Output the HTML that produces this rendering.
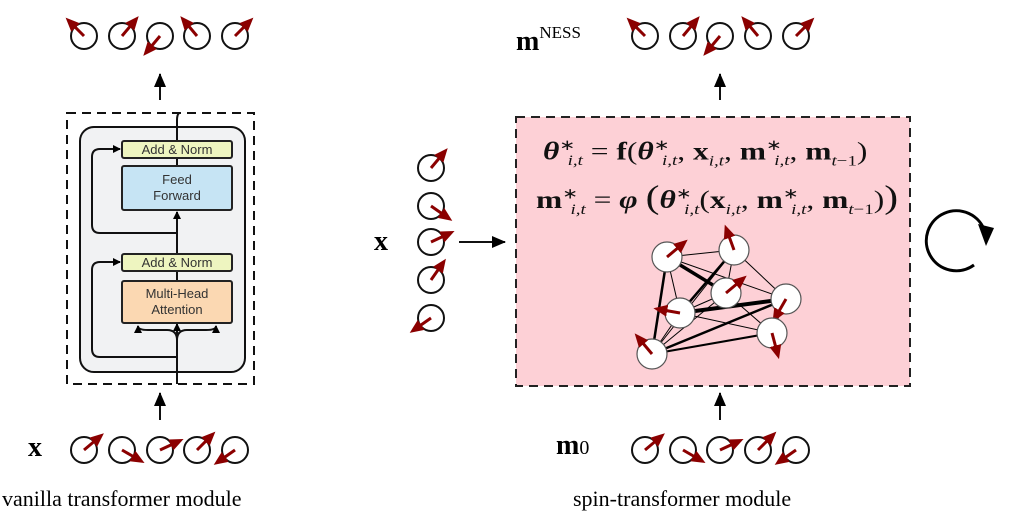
<!DOCTYPE html>
<html><head><meta charset="utf-8"><style>
body{margin:0;background:#fff;width:1014px;height:526px;overflow:hidden;position:relative;font-family:"Liberation Serif",serif}
.t{position:absolute;white-space:nowrap}
.box{position:absolute;font-family:"Liberation Sans",sans-serif;font-size:13px;color:#333;text-align:center;border:2px solid #222;border-radius:3px;box-sizing:border-box;line-height:16px}
.eq{font-size:25px;color:#111;transform:scaleX(1.26);transform-origin:0 50%}
.eq sub,.eq sup{font-size:15px}
b{font-weight:bold}
</style></head><body>
<svg width="1014" height="526" style="position:absolute;left:0;top:0">
<defs>
<marker id="ah" markerWidth="8" markerHeight="8" refX="7" refY="4" orient="auto" markerUnits="userSpaceOnUse"><path d="M0,0 L8,4 L0,8z" fill="#000"/></marker>
<marker id="ab" markerWidth="14" markerHeight="12" refX="13" refY="6" orient="auto" markerUnits="userSpaceOnUse"><path d="M0,0 L14,6 L0,12z" fill="#000"/></marker>
<marker id="ar" markerWidth="14" markerHeight="12" refX="2" refY="6" orient="auto" markerUnits="userSpaceOnUse"><path d="M0,0 L14,6 L0,12z" fill="#8b0000"/></marker>
</defs>
<rect x="67" y="113" width="187" height="271" fill="none" stroke="#111" stroke-width="2" stroke-dasharray="9,6"/>
<rect x="80" y="127" width="165" height="245" rx="14" fill="#f1f2f3" stroke="#111" stroke-width="2"/>
<g stroke="#111" stroke-width="2" fill="none">
<path d="M177,384 L177,324" marker-end="url(#ah)"/>
<path d="M177,340 Q177,330 167,330 L148,330 Q138,330 138,326" marker-end="url(#ah)"/>
<path d="M177,340 Q177,330 187,330 L206,330 Q216,330 216,326" marker-end="url(#ah)"/>
<path d="M177,357 L100,357 Q92,357 92,349 L92,270 Q92,262 100,262 L120,262" marker-end="url(#ah)"/>
<path d="M177,253 L177,212" marker-end="url(#ah)"/>
<path d="M177,233 L100,233 Q92,233 92,225 L92,157 Q92,149 100,149 L120,149" marker-end="url(#ah)"/>
<path d="M177,140 L177,120 Q177,115 179,113"/>
<path d="M177,272 L177,280"/><path d="M177,158 L177,165"/>
<path d="M160,420 L160,393" marker-end="url(#ab)"/>
<path d="M160,100 L160,74" marker-end="url(#ab)"/>
<path d="M720,420 L720,393" marker-end="url(#ab)"/>
<path d="M720,100 L720,74" marker-end="url(#ab)"/>
<path d="M459,242 L505,242" marker-end="url(#ab)"/>
</g>
<rect x="516" y="117" width="394" height="269" fill="#fdd0d6" stroke="#222" stroke-width="2" stroke-dasharray="9,6"/>
<g stroke="#000" fill="none">
<line x1="667" y1="257" x2="734" y2="250" stroke-width="1"/>
<line x1="667" y1="257" x2="726" y2="293" stroke-width="3.5"/>
<line x1="667" y1="257" x2="680" y2="313" stroke-width="1"/>
<line x1="667" y1="257" x2="652" y2="354" stroke-width="2.5"/>
<line x1="667" y1="257" x2="786" y2="299" stroke-width="1"/>
<line x1="734" y1="250" x2="680" y2="313" stroke-width="2.5"/>
<line x1="734" y1="250" x2="726" y2="293" stroke-width="1"/>
<line x1="734" y1="250" x2="786" y2="299" stroke-width="1"/>
<line x1="734" y1="250" x2="652" y2="354" stroke-width="1"/>
<line x1="680" y1="313" x2="786" y2="299" stroke-width="4"/>
<line x1="680" y1="313" x2="726" y2="293" stroke-width="1"/>
<line x1="680" y1="313" x2="772" y2="333" stroke-width="1"/>
<line x1="680" y1="313" x2="652" y2="354" stroke-width="1"/>
<line x1="726" y1="293" x2="772" y2="333" stroke-width="1"/>
<line x1="652" y1="354" x2="786" y2="299" stroke-width="2.5"/>
<line x1="652" y1="354" x2="772" y2="333" stroke-width="2"/>
<line x1="652" y1="354" x2="726" y2="293" stroke-width="1"/>
<line x1="786" y1="299" x2="772" y2="333" stroke-width="1"/>
</g>
<g id="spins"></g>
<path d="M985,232 A30,30 0 1 0 974,265" fill="none" stroke="#000" stroke-width="3"/>
<path d="M978,224 L994,228 L986,246z" fill="#000"/>
</svg>
<div class="box" style="left:121px;top:140px;width:112px;height:19px;background:#eef5c0">Add &amp; Norm</div>
<div class="box" style="left:121px;top:165px;width:112px;height:46px;background:#c6e4f4;padding-top:5px">Feed<br>Forward</div>
<div class="box" style="left:121px;top:253px;width:112px;height:19px;background:#eef5c0">Add &amp; Norm</div>
<div class="box" style="left:121px;top:280px;width:112px;height:44px;background:#fbd8b2;padding-top:4px">Multi-Head<br>Attention</div>
<div class="t" style="left:28px;top:432px;font-size:28px;font-weight:bold">x</div>
<div class="t" style="left:374px;top:226px;font-size:28px;font-weight:bold">x</div>
<div class="t" style="left:556px;top:430px;font-size:28px"><b>m</b><span style="font-size:20px">0</span></div>
<div class="t" style="left:516px;top:28px;font-size:28px;line-height:28px"><b>m</b><span style="font-size:17px;position:relative;top:-12px">NESS</span></div>
<div class="t" style="left:2px;top:486px;font-size:22px">vanilla transformer module</div>
<div class="t" style="left:573px;top:486px;font-size:22px">spin-transformer module</div>
<div class="t eq" style="left:543px;top:136px"><b><i>θ</i></b><sup>∗</sup><sub style="margin-left:-6px"><i>i,t</i></sub> = <b>f</b>(<b><i>θ</i></b><sup>∗</sup><sub style="margin-left:-6px"><i>i,t</i></sub>, <b>x</b><sub><i>i,t</i></sub>, <b>m</b><sup>∗</sup><sub style="margin-left:-6px"><i>i,t</i></sub>, <b>m</b><sub><i>t</i>−1</sub>)</div>
<div class="t eq" style="left:536px;top:180px"><b>m</b><sup>∗</sup><sub style="margin-left:-6px"><i>i,t</i></sub> = <b><i>φ</i></b> <span style="font-size:33px">(</span><b><i>θ</i></b><sup>∗</sup><sub style="margin-left:-6px"><i>i,t</i></sub>(<b>x</b><sub><i>i,t</i></sub>, <b>m</b><sup>∗</sup><sub style="margin-left:-6px"><i>i,t</i></sub>, <b>m</b><sub><i>t</i>−1</sub>)<span style="font-size:33px">)</span></div>
<script>
(function(){
var g=document.getElementById('spins'),ns='http://www.w3.org/2000/svg';
function spin(x,y,a,r,big){
 var c=document.createElementNS(ns,'circle');c.setAttribute('cx',x);c.setAttribute('cy',y);c.setAttribute('r',r);
 c.setAttribute('fill',big?'#fff':'none');c.setAttribute('stroke',big?'#555':'#111');c.setAttribute('stroke-width',big?1.2:2);g.appendChild(c);
 var L=big?15:14,rad=a*Math.PI/180,x2=x+L*Math.cos(rad),y2=y+L*Math.sin(rad);
 var l=document.createElementNS(ns,'line');l.setAttribute('x1',x);l.setAttribute('y1',y);l.setAttribute('x2',x2);l.setAttribute('y2',y2);
 l.setAttribute('stroke','#8b0000');l.setAttribute('stroke-width',3);l.setAttribute('marker-end','url(#ar)');g.appendChild(l);
}
var topA=[-135,-50,130,-130,-45],botA=[-40,30,-25,-45,145];
[84,122,160,197,235].forEach(function(x,i){spin(x,36,topA[i],13);spin(x,450,botA[i],13);});
[645,683,720,758,796].forEach(function(x,i){spin(x,36,topA[i],13);spin(x,450,botA[i],13);});
var col=[-50,35,-25,-55,145];[168,206,242,280,318].forEach(function(y,i){spin(431,y,col[i],13);});
var N=[[667,257,-40],[734,250,-110],[726,293,-40],[680,313,-170],[786,299,120],[772,333,75],[652,354,-130]];
N.forEach(function(n){spin(n[0],n[1],n[2],15,true);});
})();
</script>
</body></html>
